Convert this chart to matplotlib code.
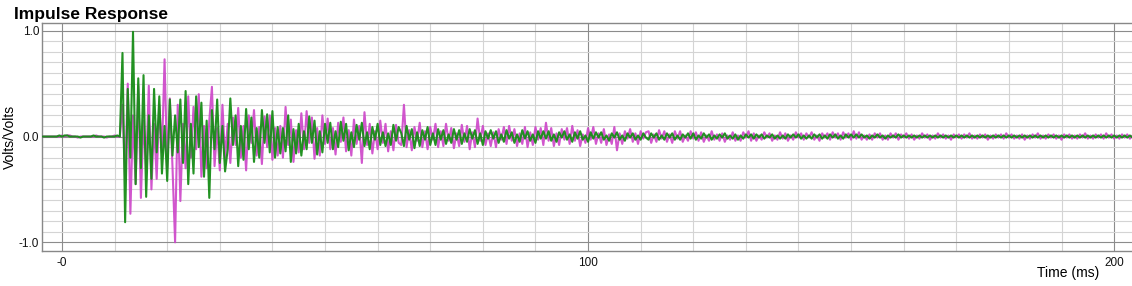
import numpy as np
import matplotlib
matplotlib.use("Agg")
import matplotlib.pyplot as plt
from matplotlib.ticker import MultipleLocator

plt.rcParams['font.family'] = ['Liberation Sans', 'DejaVu Sans']

# sample spacing and start time (ms) of the traces, values in hundredths of V/V
t_start = -4.0
dt = 0.5

# -4.0 .. 11.0 ms (before the impulse)
pre_mag = [0, 0, 0, 0, 0, 0, 0, 0, 1, 0, 1, 1, 0, 0, -1, 0, 0, 0, 0, 0, 0, 1, 0, 0, 0, -1, 0, 0, 1, 0, 0]
pre_grn = [0, 0, 0, 0, 0, 0, 0, 1, 0, 1, 1, 0, 0, 0, 0, -1, 0, 0, 0, 0, 1, 0, 0, 0, -1, 0, 0, 0, 0, 1, 0]

# 11.5 .. 203.5 ms, one row = 10 ms
mag = [
    30, -40, 50, -73, 20, -45, 48, -58, 15, -30, 48, -50, 12, -40, 30, -15, 73, -30, 36, -28,
    -100, 30, -61, 12, -30, 38, -20, 28, -12, 40, -38, 10, -30, 15, 47, -28, 8, -32, 30, -20,
    12, -25, 18, -8, 27, -20, 10, -32, 20, -6, 25, -18, 9, -26, 19, -10, 20, -22, 8, -18,
    10, -20, 28, -8, 16, -24, 6, -15, 22, -12, 24, -6, 18, -21, 8, -18, 20, -7, 17, -12,
    8, -17, 13, -5, 18, -14, 6, -18, 16, -7, 10, -25, 23, -8, 12, -16, 5, -12, 15, -6,
    12, -14, 5, -13, 11, -6, -8, 30, -10, 6, -13, 9, -4, 13, -10, 5, -12, 9, -3, 12,
    -10, 5, -9, 12, -4, 8, -11, 3, -9, 11, -5, 10, -12, 4, -10, 17, -4, 10, -8, 3,
    -9, 4, -10, 7, -3, 9, -7, 10, -4, 7, -9, 3, -7, 9, -10, 4, -8, 9, -3, 8,
    -8, 13, -4, 8, -9, 3, -8, 7, -3, 8, -7, 10, -4, 6, -9, 2, -6, 8, -3, 9,
    -7, 3, -6, 7, -8, 2, -7, 9, -13, 3, -7, 5, -2, 7, -5, 3, -7, 5, -2, 4,
    5, -6, 2, -5, 6, -2, 5, -5, 2, -6, 5, -2, 5, -5, 1, -4, 5, -2, 4, -4,
    4, -5, 1, -4, 5, -3, 2, -4, 3, -5, 1, -3, 4, -4, 1, -4, 4, -1, 5, -4,
    3, -4, 1, -3, 4, -1, 3, -4, 1, -3, 4, -2, 3, -4, 1, -3, 4, -1, 3, -3,
    3, -1, 4, -3, 1, -4, 3, -1, 3, -3, 4, -1, 3, -3, 4, -1, 3, -3, 5, -2,
    4, -3, 1, -3, 2, -3, 3, -1, 3, -3, 1, -3, 3, -1, 3, -3, 2, -1, 3, -2,
    2, -3, 1, -2, 3, -1, 2, -3, 1, -2, 3, -1, 2, -2, 1, -3, 2, -1, 2, -2,
    2, -1, 3, -2, 1, -2, 2, -1, 2, -3, 1, -2, 2, -1, 2, -2, 3, -1, 2, -2,
    1, -2, 2, -3, 1, -2, 2, -1, 3, -2, 1, -2, 2, -1, 2, -2, 1, -3, 2, -1,
    2, -2, 1, -2, 2, -1, 3, -2, 1, -2, 2, -1, 2, -2, 3, -1, 2, -2, 1, -2,
    2, -1, 2, -2, 1,
]
grn = [
    79, -81, 45, -20, 99, -45, 55, -30, 58, -57, 20, -40, 45, -15, 38, -35, 10, -42, 35, -18,
    20, -15, 35, -25, 43, -45, 12, -35, 38, -10, 32, -38, 15, -58, 25, -12, 35, -25, 10, -33,
    -12, 36, -8, 20, -28, 10, -22, 26, -12, 18, -24, 8, -20, 25, -6, 21, -15, 24, -20, 9,
    -16, 8, -14, 20, -24, 7, -16, 12, -18, 5, -12, 19, -6, 15, -17, 5, -15, 12, -6, 13,
    -12, 5, -10, 14, -4, 12, -13, 4, -10, 11, -3, 13, -9, 4, -12, 9, -3, 12, -8, 4,
    -9, 3, -8, 11, -4, 9, 3, -9, 10, -3, 7, -11, 4, -9, 6, -3, 9, -8, 3, -8,
    7, -3, 6, -7, 2, -6, 7, -3, 6, -7, 3, -5, 7, -2, 6, -7, 3, -8, 5, -2,
    6, -2, 5, -6, 2, -5, 6, -2, 4, -6, 2, -5, 6, -2, 5, -4, 2, -6, 5, -2,
    5, -2, 5, -4, 2, -5, 4, -1, 5, -3, 2, -5, 4, -2, 5, -3, 1, -5, 4, -2,
    4, -1, 4, -3, 1, -4, 3, -1, 4, -3, 1, -4, 3, -1, 3, -3, 1, -3, 3, -1,
    -3, 3, -1, 3, -3, 1, -3, 3, -1, 3, -3, 1, -3, 2, -1, 3, -2, 3, -3, 1,
    -2, 3, -1, 2, -3, 1, -2, 2, -1, 3, -2, 1, -2, 2, -3, 1, -2, 2, -1, 2,
    -2, 2, -1, 2, -2, 1, -1, 2, -2, 1, -2, 1, -2, 2, -1, 2, -1, 2, -2, 1,
    -2, 1, -2, 2, -1, 2, -2, 1, -2, 2, -1, 2, -2, 1, -2, 2, -1, 2, -1, 2,
    -1, 2, -1, 1, -2, 1, -1, 2, -1, 1, -2, 1, -1, 1, -1, 2, -1, 1, -1, 1,
    -1, 1, -1, 1, -1, 1, -1, 1, -1, 1, -1, 1, -1, 1, -1, 1, -1, 1, -1, 1,
    -1, 1, -1, 1, -1, 1, -1, 1, -1, 1, -1, 1, -1, 1, -1, 1, -1, 1, -1, 1,
    -1, 1, -1, 1, -1, 1, -1, 1, -1, 1, -1, 1, -1, 1, -1, 1, -1, 1, -1, 1,
    -1, 1, -1, 1, -1, 1, -1, 1, -1, 1, -1, 1, -1, 1, -1, 1, -1, 1, -1, 1,
    -1, 1, -1, 1, -1,
]

y_mag = np.array(pre_mag + mag) / 100.0
y_grn = np.array(pre_grn + grn) / 100.0
t = t_start + dt * np.arange(len(y_mag))

fig = plt.figure(figsize=(11.32, 2.86), dpi=100)
ax = fig.add_axes([42 / 1132, 35 / 286, 1090 / 1132, 228 / 286])

ax.plot(t, y_mag, color='#cc44c8', lw=1.5, alpha=0.9, zorder=3)
ax.plot(t, y_grn, color='#178c17', lw=1.5, alpha=0.95, zorder=4)

ax.set_xlim(-3.8, 203.4)
ax.set_ylim(-1.082, 1.073)

ax.xaxis.set_major_locator(MultipleLocator(100))
ax.xaxis.set_minor_locator(MultipleLocator(10))
ax.yaxis.set_major_locator(MultipleLocator(1.0))
ax.yaxis.set_minor_locator(MultipleLocator(0.1))
ax.grid(which='minor', color='#d4d4d4', lw=0.8)
ax.grid(which='major', color='#8c8c8c', lw=0.8)
ax.set_axisbelow(True)

ax.set_xticks([0, 100, 200])
ax.set_xticklabels(['-0', '100', '200'])
ax.set_yticks([-1.0, 0.0, 1.0])
ax.set_yticklabels(['-1.0', '0.0', '1.0'])
ax.tick_params(which='both', length=0, labelsize=8.5, colors='#111111')
ax.tick_params(axis='x', pad=4)
ax.tick_params(axis='y', pad=2)

for side in ['left', 'bottom', 'top']:
    ax.spines[side].set_color('#888888')
    ax.spines[side].set_linewidth(1.0)
ax.spines['right'].set_visible(False)

fig.text(14 / 1132, 1 - 14 / 286, 'Impulse Response', fontsize=12.5, fontweight='bold',
         ha='left', va='center')
fig.text(10 / 1132, 1 - 137 / 286, 'Volts/Volts', fontsize=10, rotation=90,
         ha='center', va='center')
fig.text(1068 / 1132, 1 - 273 / 286, 'Time (ms)', fontsize=10, ha='center', va='center')

fig.savefig('out.png', dpi=100)
